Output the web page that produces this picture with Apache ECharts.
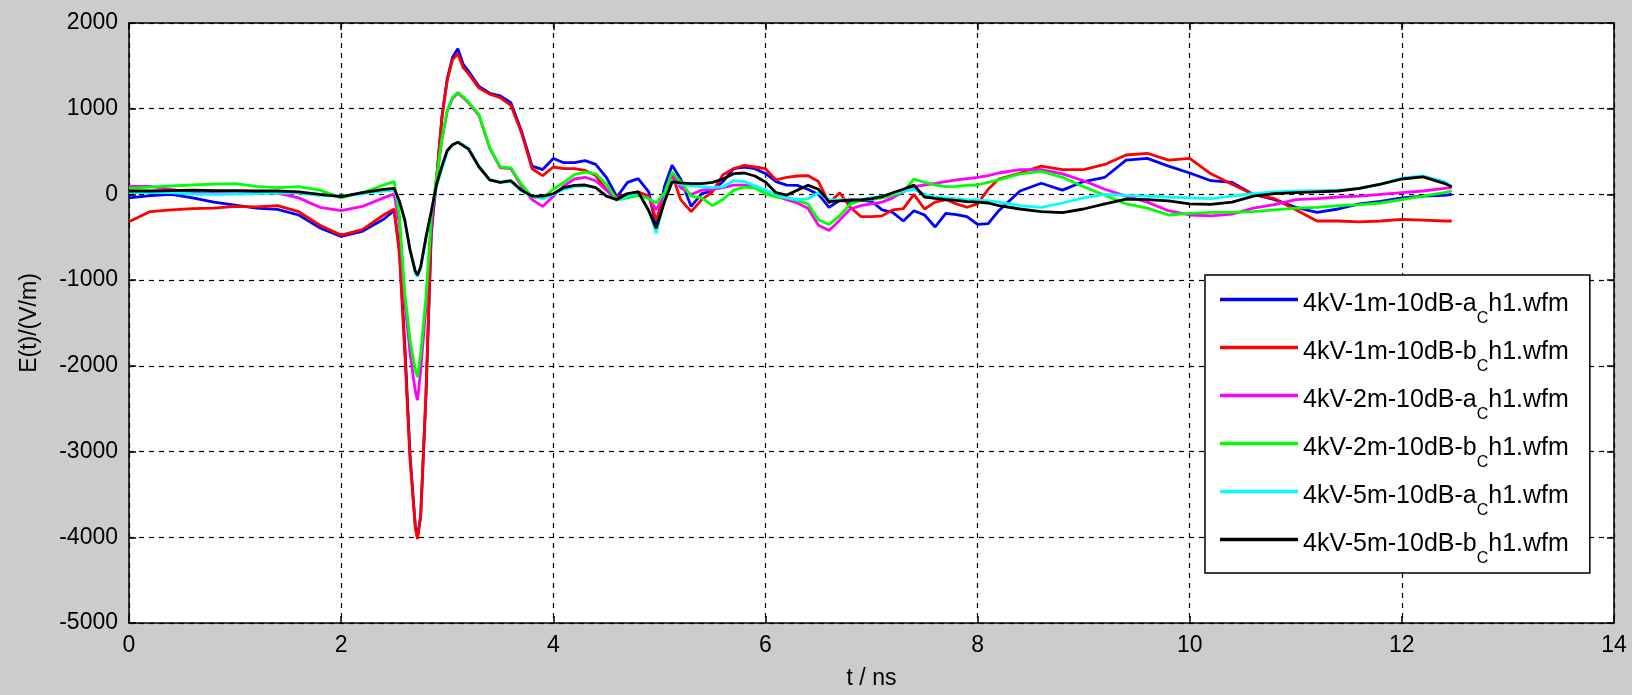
<!DOCTYPE html>
<html>
<head>
<meta charset="utf-8">
<script src="https://cdn.jsdelivr.net/npm/echarts/dist/echarts.min.js"></script>
<style>
html,body{margin:0;padding:0;background:#cccccc;}
#chart{width:1632px;height:695px;}
</style>
</head>
<body>
<div id="chart"></div>
<script>
// time axis (ns)
const times = [0,0.2,0.4,0.6,0.8,1.0,1.2,1.4,1.6,1.8,
 2.0,2.2,2.4,2.5,2.55,2.6,2.65,2.7,2.72,2.75,
 2.8,2.85,2.9,2.95,3.0,3.05,3.1,3.15,3.2,3.3,
 3.4,3.5,3.6,3.7,3.8,3.9,4.0,4.1,4.2,4.3,
 4.4,4.5,4.6,4.7,4.8,4.9,4.97,5.05,5.12,5.2,
 5.3,5.4,5.5,5.6,5.7,5.8,5.9,6.0,6.1,6.2,
 6.3,6.4,6.5,6.6,6.7,6.8,6.9,7.0,7.1,7.2,
 7.3,7.4,7.5,7.6,7.7,7.8,7.9,8.0,8.1,8.2,
 8.4,8.6,8.8,9.0,9.2,9.4,9.6,9.8,10.0,10.2,
 10.4,10.6,10.8,11.0,11.2,11.4,11.6,11.8,12.0,12.2,
 12.4,12.47];

const blue1mA = [-40,-15,0,-40,-90,-125,-160,-175,-240,-390,
 -490,-430,-290,-190,-650,-1750,-3050,-3880,-3990,-3750,
 -2350,-450,180,900,1350,1600,1700,1520,1440,1260,
 1180,1150,1070,740,330,290,420,370,370,395,
 350,200,-30,140,185,30,-380,100,340,180,
 -140,10,40,150,300,320,300,245,150,108,
 105,60,0,-150,-70,-85,-70,-80,-180,-210,
 -310,-190,-240,-380,-220,-235,-260,-350,-340,-190,
 40,130,50,150,200,400,420,330,250,160,
 140,0,-60,-150,-210,-170,-110,-80,-40,-20,
 -10,0];

const red1mB = [-320,-200,-180,-165,-160,-140,-145,-130,-200,-360,
 -475,-410,-240,-170,-700,-1850,-3100,-3900,-4020,-3750,
 -2300,-400,200,900,1330,1570,1640,1480,1410,1240,
 1170,1130,1040,720,300,220,320,300,300,280,
 220,60,-30,0,30,-20,-300,0,240,-60,
 -200,-60,30,230,300,340,320,300,170,200,
 215,220,150,-100,20,-150,-258,-258,-250,-180,
 -165,0,-170,-90,-60,-110,-150,-110,60,180,
 250,330,290,290,350,460,480,400,420,240,
 120,0,-50,-180,-310,-310,-320,-310,-290,-300,
 -310,-310];

const magenta2mA = [95,95,60,20,20,20,20,15,-40,-150,
 -190,-140,-40,5,-350,-1250,-1850,-2300,-2400,-2050,
 -1300,-300,180,640,970,1120,1180,1130,1070,920,
 540,310,300,100,-60,-140,-20,100,180,200,
 160,50,-65,-30,0,-40,-180,0,240,80,
 0,50,60,80,108,108,90,50,-20,-60,
 -100,-160,-360,-420,-300,-170,-130,-110,-90,-40,
 30,90,110,130,150,170,185,200,220,250,
 290,290,240,160,60,-20,-90,-190,-240,-250,
 -230,-160,-120,-60,-50,-30,-20,0,20,40,
 70,80];

const green2mB = [70,85,100,110,120,125,95,80,90,50,
 -40,20,110,150,-250,-1150,-1700,-2050,-2130,-1850,
 -1200,-250,200,650,980,1130,1190,1140,1080,930,
 550,320,310,120,-30,-40,60,140,230,260,
 240,120,-65,-40,-10,-50,-100,20,260,150,
 -20,-40,-130,-60,50,85,75,10,-30,-40,
 -70,-110,-296,-350,-250,-110,-70,-60,-40,-10,
 30,180,140,110,90,95,105,110,140,170,
 240,270,200,90,-10,-110,-160,-240,-220,-210,
 -210,-200,-180,-160,-150,-130,-120,-100,-60,-20,
 20,40];

const cyan5mA = [20,20,20,5,0,5,10,15,15,-10,
 -20,10,40,50,-100,-300,-660,-920,-960,-860,
 -510,-200,100,300,500,580,610,580,540,330,
 170,140,150,40,-20,-50,0,60,90,100,
 80,-10,-65,-20,20,-180,-450,-60,150,120,
 100,90,80,90,160,150,100,50,0,-40,
 -60,-50,20,-60,-65,-65,-60,-40,-20,10,
 40,60,0,-30,-40,-50,-60,-65,-75,-90,
 -130,-150,-100,-40,0,-10,-20,-30,-40,-50,
 -20,10,30,40,45,50,70,120,190,215,
 150,90];

const black5mB = [40,40,45,50,45,45,40,40,30,0,
 -25,20,60,70,-80,-300,-650,-900,-940,-845,
 -496,-200,120,330,512,580,608,570,530,320,
 170,140,160,50,-20,-20,8,80,105,110,
 80,-20,-60,10,30,-190,-393,-80,146,135,
 127,127,140,180,242,250,215,146,20,-8,
 50,108,60,-85,-75,-65,-65,-50,-27,20,
 60,108,-30,-46,-60,-70,-85,-90,-100,-130,
 -170,-200,-212,-170,-110,-55,-60,-75,-110,-116,
 -90,-20,10,20,30,40,70,120,180,205,
 130,90];

const seriesNames = [
 '4kV-1m-10dB-a_Ch1.wfm',
 '4kV-1m-10dB-b_Ch1.wfm',
 '4kV-2m-10dB-a_Ch1.wfm',
 '4kV-2m-10dB-b_Ch1.wfm',
 '4kV-5m-10dB-a_Ch1.wfm',
 '4kV-5m-10dB-b_Ch1.wfm'
];
const seriesValues = [blue1mA, red1mB, magenta2mA, green2mB, cyan5mA, black5mB];
const seriesColors = ['#0000ff','#ff0000','#ff00ff','#00ff00','#00ffff','#000000'];

const xTicks = {min: 0, max: 14, interval: 2};
const yTicks = {min: -5000, max: 2000, interval: 1000};
const xLabel = 't / ns';
const yLabel = 'E(t)/(V/m)';

const FONT = '"Liberation Sans", Arial, sans-serif';

const chart = echarts.init(document.getElementById('chart'), null, {renderer: 'canvas'});

const series = seriesValues.map((vals, i) => ({
  name: seriesNames[i],
  type: 'line',
  data: times.map((t, k) => [t, vals[k]]),
  symbol: 'none',
  showSymbol: false,
  smooth: false,
  lineStyle: {color: seriesColors[i], width: 2.8},
  itemStyle: {color: seriesColors[i]},
  xAxisIndex: 0,
  yAxisIndex: 0,
  animation: false
}));

const frameAxis = {
  axisLine: {show: true, onZero: false, lineStyle: {color: '#000', width: 1.5}},
  axisTick: {show: true, inside: true, length: 7, lineStyle: {color: '#000', width: 1.5}},
};

const plainNum = v => String(v);

const option = {
  backgroundColor: '#cccccc',
  animation: false,
  textStyle: {fontFamily: FONT},
  grid: {left: 129, right: 18, top: 23, bottom: 69, show: true, backgroundColor: '#ffffff', borderWidth: 0},
  legend: {
    orient: 'vertical',
    left: 1205,
    top: 275,
    padding: [12, 21, 6, 15],
    itemWidth: 78,
    itemHeight: 20,
    itemGap: 8,
    backgroundColor: '#ffffff',
    borderColor: '#000000',
    borderWidth: 1.5,
    borderRadius: 0,
    icon: 'path://M0,0 L78,0 L78,3.5 L0,3.5 Z',
    itemStyle: {borderWidth: 0},
    formatter: function (name) {
      const p = name.split('_');
      return '{m|' + p[0] + '}{s|' + p[1].charAt(0) + '}{m|' + p[1].slice(1) + '}';
    },
    textStyle: {
      fontFamily: FONT,
      color: '#000',
      rich: {
        m: {fontFamily: FONT, fontSize: 25, color: '#000', verticalAlign: 'top', lineHeight: 25, padding: [5, 0, 0, 0]},
        s: {fontFamily: FONT, fontSize: 16, color: '#000', verticalAlign: 'top', lineHeight: 16, padding: [24, 0, 0, 0]}
      }
    },
    data: seriesNames.map((n, i) => ({name: n, itemStyle: {color: seriesColors[i]}}))
  },
  xAxis: [
    Object.assign({
      type: 'value', position: 'bottom',
      min: xTicks.min, max: xTicks.max, interval: xTicks.interval,
      name: xLabel, nameLocation: 'middle', nameGap: 44,
      nameTextStyle: {fontFamily: FONT, fontSize: 23, color: '#000'},
      axisLabel: {fontFamily: FONT, fontSize: 23, color: '#000', margin: 11, formatter: plainNum},
      splitLine: {show: true, lineStyle: {color: '#000', width: 1.2, type: [5, 5]}}
    }, frameAxis),
    Object.assign({
      type: 'value', position: 'top',
      min: xTicks.min, max: xTicks.max, interval: xTicks.interval,
      axisLabel: {show: false},
      splitLine: {show: false}
    }, frameAxis)
  ],
  yAxis: [
    Object.assign({
      type: 'value', position: 'left',
      min: yTicks.min, max: yTicks.max, interval: yTicks.interval,
      name: yLabel, nameLocation: 'middle', nameGap: 88,
      nameTextStyle: {fontFamily: FONT, fontSize: 23, color: '#000'},
      axisLabel: {fontFamily: FONT, fontSize: 23, color: '#000', margin: 11, formatter: plainNum},
      splitLine: {show: true, lineStyle: {color: '#000', width: 1.2, type: [5, 5]}}
    }, frameAxis),
    Object.assign({
      type: 'value', position: 'right',
      min: yTicks.min, max: yTicks.max, interval: yTicks.interval,
      axisLabel: {show: false},
      splitLine: {show: false}
    }, frameAxis)
  ],
  series: series
};

chart.setOption(option);
</script>
</body>
</html>
